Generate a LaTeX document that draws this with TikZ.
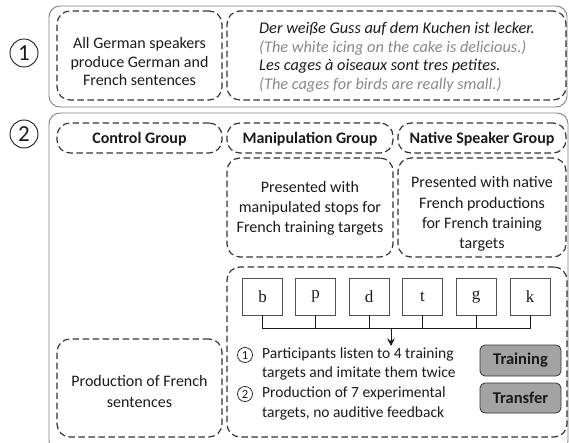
\documentclass[tikz,border=0pt]{standalone}
\usepackage{fontspec}
\setmainfont{Carlito}
\newfontfamily\serifl{Liberation Serif}
\usetikzlibrary{fit,arrows.meta}
\definecolor{dline}{HTML}{333333}
\definecolor{oline}{HTML}{808080}
\definecolor{gtext}{HTML}{888888}
\definecolor{btnfill}{HTML}{A3A3A3}
\definecolor{txt}{HTML}{1A1A1A}
\tikzset{
 outerbox/.style={draw=oline, line width=0.9pt, rounded corners=11pt, inner sep=0pt},
 dbox/.style={draw=dline, line width=1.2pt, dash pattern=on 6.5pt off 3.5pt, rounded corners=13pt, inner sep=0pt},
 lbox/.style={draw=dline!85, line width=0.8pt, minimum width=40pt, minimum height=37pt, inner sep=0pt, font=\serifl\fontsize{17}{17}\selectfont, text=txt},
 btn/.style={draw=dline, line width=0.8pt, fill=btnfill, rounded corners=5pt, inner sep=0pt, minimum width=81pt, font=\bfseries\fontsize{16.5}{18}\selectfont, text=txt},
 bigcirc/.style={circle, draw=txt, line width=0.9pt, minimum size=28pt, inner sep=0pt, font=\fontsize{23}{23}\selectfont, text=txt},
 smallcirc/.style={circle, draw=txt, line width=0.7pt, minimum size=15pt, inner sep=0pt, font=\fontsize{12.5}{12.5}\selectfont, text=txt},
 txtline/.style={text=txt, font=\fontsize{16}{19}\selectfont, inner sep=0pt, align=center},
 hdr/.style={text=txt, font=\bfseries\fontsize{16}{18}\selectfont, inner sep=0pt},
 conn/.style={draw=txt, line width=0.9pt},
}
\begin{document}
\begin{tikzpicture}[x=1pt,y=-1pt]
\useasboundingbox (0,0) rectangle (569,443);
\clip (0,0) rectangle (569,443);
% outer boxes
\node[outerbox, fit={(49,6) (567,107)}] (o1) {};
\node[outerbox, fit={(49,113) (568,452)}] (o2) {};
\node[bigcirc] (c1) at (24,53) {1};
\node[bigcirc] (c2) at (24,134) {2};
% row 1
\node[dbox, fit={(57,11) (222,100)}] (a1) {};
\node[dbox, fit={(227,11) (566,100)}] (a2) {};
\node[txtline, font=\fontsize{16}{18.5}\selectfont] (t1) at (139.5,62) {All German speakers\\produce German and\\French sentences};
\node[txtline, align=left, anchor=west, font=\itshape\fontsize{16.3}{18.5}\selectfont] (t2) at (259,57) {Der weiße Guss auf dem Kuchen ist lecker.\\\textcolor{gtext}{(The white icing on the cake is delicious.)}\\Les cages à oiseaux sont tres petites.\\\textcolor{gtext}{(The cages for birds are really small.)}};
% headers
\node[dbox, fit={(57,123) (222,153)}] (h1) {};
\node[dbox, fit={(227,123) (393,153)}] (h2) {};
\node[dbox, fit={(398,123) (566,153)}] (h3) {};
\node[hdr] (ht1) at (139.5,139) {Control Group};
\node[hdr] (ht2) at (310,139) {Manipulation Group};
\node[hdr] (ht3) at (482,139) {Native Speaker Group};
% descriptions
\node[dbox, fit={(227,158) (393,257)}] (d2) {};
\node[dbox, fit={(398,158) (566,257)}] (d3) {};
\node[txtline, font=\fontsize{16}{20}\selectfont] (dt2) at (310,208.5) {Presented with\\manipulated stops for\\French training targets};
\node[txtline, font=\fontsize{16}{20.3}\selectfont] (dt3) at (482,214) {Presented with native\\French productions\\for French training\\targets};
% production
\node[dbox, fit={(57,339) (222,437)}] (pr) {};
\node[txtline, font=\fontsize{16}{21}\selectfont] (prt) at (139.5,391.5) {Production of French\\sentences};
% bottom block
\node[dbox, fit={(227,267) (567,437)}] (bb) {};
\node[lbox] (lb) at (262.5,296.5) {b};
\node[lbox] (lp) at (315.5,296.5) {p};
\node[lbox] (ld) at (369,296.5) {d};
\node[lbox] (lt) at (422.5,296.5) {t};
\node[lbox] (lg) at (476,296.5) {g};
\node[lbox] (lk) at (530,296.5) {k};
\coordinate (bar) at (391,328);
\coordinate (tip) at (391,346);
\draw[conn] (lb.south) -- (lb.south |- bar) -- (lk.south |- bar) -- (lk.south);
\foreach \n in {lp,ld,lt,lg} \draw[conn] (\n.south) -- (\n.south |- bar);
\draw[conn, -{Stealth[length=7.5pt,width=7.5pt]}] (tip |- bar) -- (tip);
\node[smallcirc] (s1) at (245,355) {1};
\node[smallcirc] (s2) at (245,394) {2};
\node[txtline, align=left, anchor=west, font=\fontsize{15.5}{18.5}\selectfont] (p1) at (262,364) {Participants listen to 4 training\\targets and imitate them twice};
\node[txtline, align=left, anchor=west, font=\fontsize{15.5}{20}\selectfont] (p2) at (262,403.5) {Production of 7 experimental\\targets, no auditive feedback};
\node[btn, minimum height=31pt] (tr) at (520.5,360.5) {Training};
\node[btn, minimum height=30pt] (tf) at (520.5,398) {Transfer};
\end{tikzpicture}
\end{document}
